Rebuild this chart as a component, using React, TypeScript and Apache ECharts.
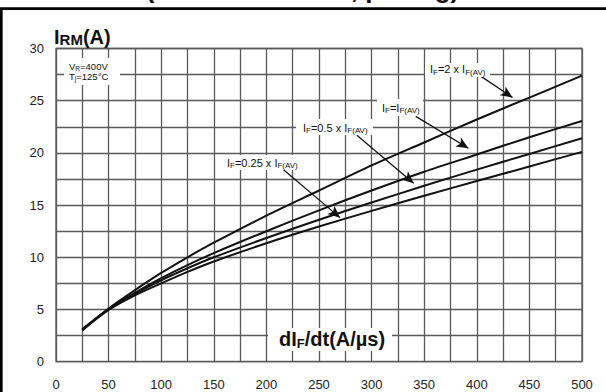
import React, { useEffect, useRef } from "react";
import * as echarts from "echarts";

// dIF/dt (A/µs)
const dIdt = [25, 50, 75, 100, 125, 150, 200, 250, 300, 350, 400, 450, 500];
// IRM (A) for each forward current
const irmIF2x = [3.1, 5.1, 6.85, 8.5, 10.0, 11.4, 14.0, 16.4, 18.8, 21.0, 23.2, 25.3, 27.4];
const irmIF1x = [3.1, 5.05, 6.6, 8.0, 9.25, 10.4, 12.5, 14.5, 16.4, 18.2, 19.85, 21.5, 23.05];
const irmIF05x = [3.05, 5.0, 6.5, 7.8, 8.95, 10.0, 11.85, 13.6, 15.25, 16.85, 18.4, 19.9, 21.4];
const irmIF025x = [3.0, 4.95, 6.35, 7.5, 8.6, 9.6, 11.35, 12.95, 14.45, 15.9, 17.3, 18.7, 20.1];

// annotation arrows (data coordinates: [dIF/dt, IRM]) start -> tip
const arrowIF2x = [[403, 27.4], [434, 25.3]];
const arrowIF1x = [[342, 23.5], [392, 20.45]];
const arrowIF05x = [[286, 21.7], [340, 17.1]];
const arrowIF025x = [[216, 18.4], [270, 13.8]];

const FONT = '"Liberation Sans", Arial, Helvetica, sans-serif';
const INK = "#111";
const GRIDC = "#5a5a5a";

let measureCtx: CanvasRenderingContext2D | null = null;
function measure(text: string, size: number, weight: string) {
  if (!measureCtx) measureCtx = document.createElement("canvas").getContext("2d");
  measureCtx!.font = `${weight} ${size}px ${FONT}`;
  return measureCtx!.measureText(text).width;
}

type Part = [string, number, string?, number?];
function run(x0: number, baseline: number, parts: Part[], z = 20) {
  const els: any[] = [];
  let x = x0;
  for (const p of parts) {
    const t = p[0];
    const size = p[1];
    const weight = p[2] || "normal";
    const dy = p[3] || 0;
    els.push({
      type: "text",
      x,
      y: baseline + dy - 0.3465 * size,
      z,
      silent: true,
      style: {
        text: t,
        fontSize: size,
        fontWeight: weight,
        fontFamily: FONT,
        fill: INK,
        align: "left",
        verticalAlign: "middle",
      },
    });
    x += measure(t, size, weight);
  }
  return els;
}

function box(x: number, y: number, w: number, h: number) {
  return { type: "rect", z: 19, silent: true, shape: { x, y, width: w, height: h }, style: { fill: "#fff" } };
}

function lbl(x: number, baseline: number, mid: string) {
  return run(x, baseline, [
    ["I", 11],
    ["F", 8, "normal", 1.5],
    [mid, 11],
    ["I", 11],
    ["F(AV)", 8, "normal", 1.5],
  ]);
}

export default function App() {
  const ref = useRef<HTMLDivElement>(null);
  useEffect(() => {
    document.body.style.margin = "0";
    const chart = echarts.init(ref.current!, undefined, { renderer: "svg" });
    const mk = (arr: number[][]) => [{ coord: arr[0] }, { coord: arr[1] }];
    const series = [irmIF2x, irmIF1x, irmIF05x, irmIF025x].map((vals, k) => ({
      type: "line",
      smooth: 0.3,
      showSymbol: false,
      silent: true,
      z: 5,
      lineStyle: { color: INK, width: 2 },
      data: dIdt.map((x, i) => [x, vals[i]]),
      markLine:
        k === 0
          ? {
              silent: true,
              symbol: ["none", "arrow"],
              symbolSize: [8, 12],
              lineStyle: { color: INK, width: 1.3, type: "solid" },
              label: { show: false },
              emphasis: { disabled: true },
              data: [mk(arrowIF2x), mk(arrowIF1x), mk(arrowIF05x), mk(arrowIF025x)],
            }
          : undefined,
    }));

    const graphic: any[] = [
      {
        type: "rect",
        silent: true,
        z: 1,
        shape: { x: 1.3, y: 8.6, width: 700, height: 500 },
        style: { fill: "none", stroke: "#000", lineWidth: 2.7 },
      },
      ...run(145.7, -1.5, [["(90% confidence, per leg)", 26, "bold"]]),
      ...run(54, 44, [
        ["I", 20, "bold"],
        ["RM", 15, "bold", 1],
        ["(A)", 20, "bold"],
      ]),
      box(64, 58, 56, 27),
      ...run(69, 69.6, [
        ["V", 9.5],
        ["R", 6.5, "normal", 1],
        ["=400V", 9.5],
      ]),
      ...run(69, 79.4, [
        ["T", 9.5],
        ["j", 6.5, "normal", 1],
        ["=125°C", 9.5],
      ]),
      box(425, 63, 65, 14),
      ...lbl(430, 73.3, "=2 x "),
      box(377, 99, 46, 17),
      ...lbl(382, 112, "="),
      box(296, 119, 77, 16),
      ...lbl(303, 132, "=0.5 x "),
      box(225, 155, 77, 15),
      ...lbl(227, 166.7, "=0.25 x "),
      box(268, 328, 124, 23),
      ...run(279, 346.3, [
        ["dI", 20, "bold"],
        ["F", 13, "bold", 1.7],
        ["/dt(A/µs)", 20, "bold"],
      ]),
    ];

    const axisCommon = {
      type: "value",
      axisLine: { show: false },
      axisTick: { show: false },
      minorTick: { show: false, splitNumber: 2 },
      splitLine: { show: true, lineStyle: { color: GRIDC, width: 1.3 } },
      minorSplitLine: { show: true, lineStyle: { color: GRIDC, width: 1.3 } },
    };

    chart.setOption({
      animation: false,
      backgroundColor: "#fff",
      grid: {
        left: 56,
        right: 24,
        top: 48.5,
        bottom: 30.3,
        show: true,
        borderColor: GRIDC,
        borderWidth: 1.3,
        containLabel: false,
      },
      xAxis: {
        ...axisCommon,
        min: 0,
        max: 500,
        interval: 50,
        axisLabel: { margin: 16, fontSize: 13, fontFamily: FONT, color: "#222" },
      },
      yAxis: {
        ...axisCommon,
        min: 0,
        max: 30,
        interval: 5,
        axisLabel: { margin: 12, fontSize: 13, fontFamily: FONT, color: "#222" },
      },
      series,
      graphic,
    });
    return () => chart.dispose();
  }, []);
  return <div ref={ref} style={{ width: 606, height: 392 }} />;
}
